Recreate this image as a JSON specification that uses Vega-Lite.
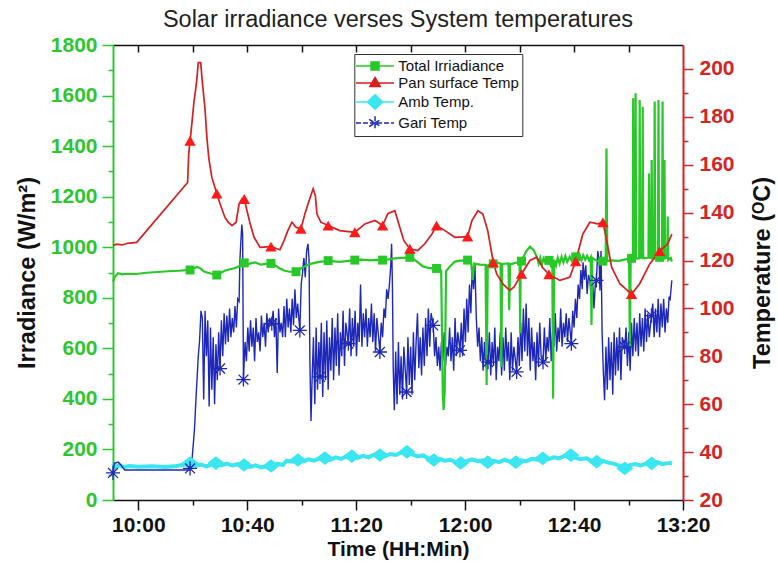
{
  "$schema": "https://vega.github.io/schema/vega-lite/v6.json",
  "width": 570,
  "height": 455,
  "autosize": "none",
  "padding": {"left": 113, "top": 45, "right": 95, "bottom": 63},
  "background": "white",
  "title": {
    "text": "Solar irradiance verses System temperatures",
    "font": "Liberation Sans",
    "fontSize": 23.5,
    "fontWeight": "normal",
    "color": "#222222",
    "anchor": "middle",
    "offset": 3
  },
  "datasets": {
    "irr": [
      {"t":590.7,"v":864},{"t":591.3,"v":882},{"t":592.6,"v":897},{"t":594,"v":893},{"t":596,"v":895},{"t":599,"v":894},
      {"t":603,"v":899},{"t":607,"v":902},{"t":611,"v":905},{"t":615,"v":907},{"t":619.0,"v":910},{"t":620.3,"v":916},
      {"t":621.5,"v":922},{"t":622.7,"v":917},{"t":624.0,"v":905},{"t":625.5,"v":899},{"t":627,"v":895},{"t":628.8,"v":890},
      {"t":630.2,"v":898},{"t":631.7,"v":907},{"t":633.3,"v":912},{"t":635,"v":916},{"t":636.5,"v":922},{"t":638,"v":932},
      {"t":638.9,"v":938},{"t":640.2,"v":932},{"t":641.5,"v":937},{"t":643,"v":940},{"t":645,"v":931},{"t":646.8,"v":934},
      {"t":648.7,"v":936},{"t":650.3,"v":928},{"t":651.8,"v":917},{"t":653.5,"v":908},{"t":655.5,"v":903},{"t":657.9,"v":903},
      {"t":659.5,"v":915},{"t":661,"v":924},{"t":662.5,"v":932},{"t":664,"v":936},{"t":666,"v":941},{"t":668,"v":944},
      {"t":669.7,"v":947},{"t":672,"v":944},{"t":674,"v":942},{"t":677,"v":946},{"t":679.5,"v":949},{"t":682,"v":951},
      {"t":685,"v":948},{"t":687.5,"v":950},{"t":689.7,"v":949},{"t":692,"v":952},{"t":694.2,"v":956},{"t":697,"v":958},
      {"t":699.7,"v":960},{"t":701.5,"v":950},{"t":703,"v":937},{"t":704.5,"v":924},{"t":706.5,"v":918},{"t":708,"v":916},
      {"t":709.5,"v":916},{"t":711.2,"v":908},{"t":711.8,"v":420},{"t":712.1,"v":356},{"t":712.5,"v":430},{"t":713.0,"v":905},
      {"t":714.5,"v":925},{"t":716.2,"v":943},{"t":718.5,"v":947},{"t":720.9,"v":949},{"t":722.2,"v":940},{"t":722.8,"v":870},
      {"t":723.3,"v":935},{"t":725.5,"v":931},{"t":727.5,"v":930},{"t":727.9,"v":455},{"t":728.3,"v":928},{"t":730.3,"v":934},
      {"t":731.8,"v":938},{"t":733.0,"v":936},{"t":733.3,"v":527},{"t":733.6,"v":934},{"t":735.9,"v":936},{"t":736.2,"v":751},
      {"t":736.5,"v":932},{"t":738.5,"v":938},{"t":740.0,"v":942},{"t":740.2,"v":660},{"t":740.4,"v":942},{"t":740.7,"v":945},
      {"t":742.5,"v":985},{"t":743.8,"v":1002},{"t":745.2,"v":988},{"t":746.3,"v":962},{"t":747.0,"v":935},{"t":747.6,"v":958},
      {"t":748.2,"v":932},{"t":748.8,"v":955},{"t":749.5,"v":938},{"t":750.2,"v":952},{"t":750.8,"v":948},{"t":751.4,"v":930},
      {"t":752.0,"v":952},{"t":752.3,"v":402},{"t":752.7,"v":950},{"t":753.4,"v":928},{"t":754.0,"v":958},{"t":754.7,"v":935},
      {"t":755.4,"v":962},{"t":756.1,"v":940},{"t":756.8,"v":965},{"t":757.5,"v":942},{"t":758.4,"v":962},{"t":759.2,"v":945},
      {"t":760.0,"v":968},{"t":760.6,"v":962},{"t":761.3,"v":944},{"t":762.0,"v":970},{"t":762.7,"v":948},{"t":763.4,"v":968},
      {"t":764.1,"v":950},{"t":764.8,"v":966},{"t":765.5,"v":948},{"t":766.1,"v":960},{"t":766.4,"v":692},{"t":766.7,"v":958},
      {"t":768.5,"v":946},{"t":770.6,"v":945},{"t":771.6,"v":943},{"t":771.9,"v":1391},{"t":772.2,"v":945},{"t":774,"v":948},
      {"t":776.5,"v":946},{"t":778.8,"v":952},{"t":780.2,"v":955},{"t":780.5,"v":606},{"t":780.8,"v":956},{"t":781.1,"v":956},
      {"t":781.6,"v":958},{"t":781.7,"v":1589},{"t":781.9,"v":960},{"t":782.4,"v":958},{"t":782.6,"v":1609},{"t":782.8,"v":956},
      {"t":783.9,"v":956},{"t":784.1,"v":1582},{"t":784.3,"v":958},{"t":785.0,"v":960},{"t":785.2,"v":1556},{"t":785.4,"v":956},
      {"t":787.3,"v":958},{"t":787.5,"v":1292},{"t":787.7,"v":960},{"t":788.3,"v":958},{"t":788.5,"v":1345},{"t":788.7,"v":956},
      {"t":789.4,"v":956},{"t":789.6,"v":1576},{"t":789.8,"v":960},{"t":790.8,"v":960},{"t":791.0,"v":1582},{"t":791.2,"v":958},
      {"t":791.4,"v":960},{"t":792.3,"v":960},{"t":792.5,"v":1576},{"t":792.7,"v":956},{"t":793.0,"v":960},{"t":793.2,"v":1345},
      {"t":793.4,"v":956},{"t":794.2,"v":960},{"t":794.4,"v":1121},{"t":794.6,"v":950},{"t":795.5,"v":958},{"t":795.9,"v":943}
    ],
    "irrMk": [
      {"t":619.0,"v":910},{"t":628.8,"v":890},{"t":638.9,"v":938},{"t":648.7,"v":936},{"t":657.9,"v":903},{"t":669.7,"v":947},
      {"t":679.5,"v":949},{"t":689.7,"v":949},{"t":699.7,"v":960},{"t":709.5,"v":916},{"t":720.9,"v":949},{"t":730.3,"v":934},
      {"t":740.7,"v":945},{"t":750.8,"v":948},{"t":760.6,"v":962},{"t":770.6,"v":945},{"t":781.1,"v":956},{"t":791.4,"v":960}
    ],
    "pan": [
      {"t":590.7,"v":126.3},{"t":592,"v":126.8},{"t":594,"v":126.5},{"t":596,"v":127.2},{"t":599.4,"v":127.6},{"t":618.1,"v":152.6},
      {"t":618.5,"v":164.6},{"t":619.0,"v":170},{"t":619.7,"v":177.6},{"t":620.4,"v":186},{"t":621.0,"v":191},{"t":621.5,"v":195.8},
      {"t":622.0,"v":202.6},{"t":622.9,"v":202.6},{"t":623.4,"v":195.8},{"t":624.5,"v":183},{"t":625.2,"v":171},{"t":625.9,"v":162.5},
      {"t":627.0,"v":154.7},{"t":628.8,"v":148},{"t":630.0,"v":143.7},{"t":631.8,"v":138},{"t":633,"v":136},{"t":634.4,"v":134.6},
      {"t":635.9,"v":136},{"t":637.0,"v":143.7},{"t":638.2,"v":146},{"t":638.9,"v":145.7},{"t":639.9,"v":140.8},{"t":641.0,"v":135.7},
      {"t":642.5,"v":129.7},{"t":644.7,"v":125.5},{"t":648.7,"v":125.8},{"t":652.0,"v":124.5},{"t":653.5,"v":128.3},{"t":654.9,"v":132.5},
      {"t":656.4,"v":136},{"t":657.9,"v":133.9},{"t":659.7,"v":133.2},{"t":661.2,"v":139.6},{"t":663,"v":146},{"t":664.2,"v":150},
      {"t":665,"v":147},{"t":665.6,"v":139.4},{"t":667,"v":136},{"t":669.7,"v":134.6},{"t":674.0,"v":132.5},{"t":679.5,"v":131.8},
      {"t":683.2,"v":135.3},{"t":686.9,"v":136.7},{"t":689.7,"v":134.6},{"t":691.6,"v":139.6},{"t":694.2,"v":140.8},{"t":696.0,"v":133.9},
      {"t":697.5,"v":128.3},{"t":699.7,"v":124.9},{"t":702.6,"v":124.2},{"t":705.2,"v":127},{"t":707.8,"v":131.1},{"t":709.5,"v":134.6},
      {"t":712.6,"v":132.5},{"t":716.2,"v":129.7},{"t":720.9,"v":130},{"t":722.5,"v":136.7},{"t":724.7,"v":140.8},{"t":726.5,"v":139.4},
      {"t":728.3,"v":132.5},{"t":729.8,"v":122.8},{"t":730.3,"v":119.3},{"t":731.6,"v":114.4},{"t":734,"v":110},{"t":736.4,"v":107.5},
      {"t":738,"v":109},{"t":740.7,"v":114.4},{"t":743.8,"v":120},{"t":746.3,"v":121.4},{"t":748.5,"v":117},{"t":750.8,"v":114.2},
      {"t":754.8,"v":111.7},{"t":758.4,"v":113},{"t":760.6,"v":119.7},{"t":763.2,"v":131},{"t":765.8,"v":136},{"t":768.7,"v":135.3},
      {"t":770.6,"v":136},{"t":772.0,"v":128.3},{"t":773.8,"v":117.2},{"t":776.8,"v":110.3},{"t":781.1,"v":106},{"t":784.1,"v":110.3},
      {"t":787.8,"v":118.6},{"t":791.4,"v":123.9},{"t":794.4,"v":127},{"t":795.9,"v":131}
    ],
    "panMk": [
      {"t":619.0,"v":170},{"t":628.8,"v":148},{"t":638.9,"v":145.7},{"t":648.7,"v":125.8},{"t":659.7,"v":133.2},{"t":669.7,"v":134.6},
      {"t":679.5,"v":131.8},{"t":689.7,"v":134.6},{"t":699.7,"v":124.9},{"t":709.5,"v":134.6},{"t":720.9,"v":130},{"t":730.3,"v":119.3},
      {"t":740.7,"v":114.4},{"t":750.8,"v":114.2},{"t":760.6,"v":119.7},{"t":770.6,"v":136},{"t":781.1,"v":106},{"t":791.4,"v":123.9}
    ],
    "amb": [
      {"t":590.7,"v":35.4},{"t":591.8,"v":33.6},{"t":593,"v":34.6},{"t":594.5,"v":33.8},{"t":597,"v":34.2},{"t":600,"v":33.9},
      {"t":605,"v":34.1},{"t":610,"v":33.8},{"t":614,"v":34.2},{"t":617,"v":34.8},{"t":619.0,"v":35.4},{"t":621,"v":34.3},
      {"t":623,"v":34.8},{"t":625,"v":34.0},{"t":626.8,"v":34.8},{"t":628.5,"v":35.4},{"t":630.5,"v":34.5},{"t":632.5,"v":35.2},
      {"t":634.5,"v":34.4},{"t":636.5,"v":35.0},{"t":638.8,"v":34.6},{"t":641,"v":33.8},{"t":643,"v":34.5},{"t":645,"v":33.6},
      {"t":647,"v":34.0},{"t":648.7,"v":34.2},{"t":651,"v":35.2},{"t":653,"v":34.6},{"t":654.5,"v":36.4},{"t":656.5,"v":36.0},
      {"t":658.6,"v":36.7},{"t":660.5,"v":36.1},{"t":662.5,"v":37.0},{"t":664.5,"v":36.4},{"t":666.5,"v":37.4},{"t":668.5,"v":37.5},
      {"t":670.5,"v":36.8},{"t":672.5,"v":37.8},{"t":674.5,"v":37.2},{"t":676.5,"v":38.2},{"t":678.4,"v":38.3},{"t":680.5,"v":37.6},
      {"t":682.5,"v":38.4},{"t":684.5,"v":37.8},{"t":686.5,"v":38.9},{"t":688.7,"v":38.8},{"t":690.5,"v":38.2},{"t":692.5,"v":39.2},
      {"t":694.5,"v":38.8},{"t":696.5,"v":39.8},{"t":698.6,"v":40.1},{"t":700.5,"v":39.0},{"t":702.5,"v":38.2},{"t":704.5,"v":38.6},
      {"t":706.5,"v":37.4},{"t":708.5,"v":36.7},{"t":710.5,"v":37.2},{"t":712.5,"v":36.4},{"t":714.5,"v":36.8},{"t":716.5,"v":35.8},
      {"t":718.4,"v":35.5},{"t":720.5,"v":36.2},{"t":722.5,"v":37.0},{"t":724.5,"v":36.2},{"t":726.5,"v":36.6},{"t":728.3,"v":35.8},
      {"t":730.5,"v":36.4},{"t":732.5,"v":35.8},{"t":734.5,"v":36.8},{"t":736.5,"v":36.0},{"t":738.6,"v":35.8},{"t":740.5,"v":36.6},
      {"t":742.5,"v":36.2},{"t":744.5,"v":37.2},{"t":746.5,"v":36.8},{"t":748.5,"v":37.4},{"t":750.5,"v":37.0},{"t":752.5,"v":37.8},
      {"t":754.5,"v":37.4},{"t":756.5,"v":38.4},{"t":758.8,"v":38.75},{"t":760.5,"v":37.6},{"t":762.5,"v":37.0},{"t":764.5,"v":37.4},
      {"t":766.5,"v":36.4},{"t":768.3,"v":36.0},{"t":770.5,"v":36.4},{"t":772.5,"v":35.6},{"t":774.5,"v":35.2},{"t":776.5,"v":34.4},
      {"t":778.6,"v":33.2},{"t":780.5,"v":34.6},{"t":782.5,"v":35.0},{"t":784.5,"v":34.4},{"t":786.5,"v":35.2},{"t":788.5,"v":35.3},
      {"t":790.5,"v":35.8},{"t":792.5,"v":35.0},{"t":794.5,"v":35.4},{"t":795.9,"v":35.5}
    ],
    "ambMk": [
      {"t":619.0,"v":35.4},{"t":628.5,"v":35.4},{"t":638.8,"v":34.6},{"t":648.7,"v":34.2},{"t":658.6,"v":36.7},{"t":668.5,"v":37.5},
      {"t":678.4,"v":38.3},{"t":688.7,"v":38.8},{"t":698.6,"v":40.1},{"t":708.5,"v":36.7},{"t":718.4,"v":35.5},{"t":728.3,"v":35.8},
      {"t":738.6,"v":35.8},{"t":748.5,"v":37.4},{"t":758.8,"v":38.75},{"t":768.3,"v":36.0},{"t":778.6,"v":33.2},{"t":788.5,"v":35.3}
    ],
    "gari": [
      {"t":590.7,"v":31.3},{"t":591.2,"v":35.3},{"t":592.6,"v":35.8},{"t":593.6,"v":34.6},{"t":595,"v":32.5},{"t":618.8,"v":32.5},
      {"t":619.0,"v":33.2},{"t":619.8,"v":38},{"t":620.6,"v":49.2},{"t":621.3,"v":65.1},{"t":622.0,"v":79.7},{"t":622.5,"v":86.7},
      {"t":623.0,"v":99},{"t":623.5,"v":96},{"t":624.0,"v":62},{"t":624.5,"v":99},{"t":625.0,"v":80},{"t":625.5,"v":95},
      {"t":626.0,"v":59},{"t":626.5,"v":92},{"t":627.0,"v":66},{"t":627.5,"v":88},{"t":628.0,"v":60},{"t":628.5,"v":85},
      {"t":629.0,"v":70},{"t":629.5,"v":90},{"t":630.0,"v":74.9},{"t":630.5,"v":95},{"t":631.0,"v":80},{"t":631.5,"v":98},
      {"t":632.0,"v":85},{"t":632.5,"v":97},{"t":633.0,"v":86},{"t":633.5,"v":100},{"t":634.0,"v":88},{"t":634.5,"v":96},
      {"t":635.0,"v":90},{"t":635.5,"v":101},{"t":636.0,"v":92},{"t":636.5,"v":104},{"t":637.0,"v":103},{"t":637.3,"v":120},
      {"t":637.6,"v":127},{"t":638.0,"v":135},{"t":638.3,"v":131},{"t":638.6,"v":70.3},{"t":639.2,"v":86},{"t":639.7,"v":78},
      {"t":640.2,"v":92},{"t":640.7,"v":82},{"t":641.2,"v":95},{"t":641.7,"v":84},{"t":642.2,"v":92},{"t":642.7,"v":78},
      {"t":643.2,"v":96},{"t":643.7,"v":86},{"t":644.2,"v":90},{"t":644.7,"v":82},{"t":645.2,"v":97},{"t":645.7,"v":88},
      {"t":646.2,"v":94},{"t":646.7,"v":84},{"t":647.2,"v":98},{"t":647.7,"v":90},{"t":648.2,"v":96},{"t":649.0,"v":93.6},
      {"t":649.5,"v":99},{"t":650.0,"v":88},{"t":650.5,"v":96},{"t":651.0,"v":73},{"t":651.5,"v":100},{"t":652.0,"v":90},
      {"t":652.5,"v":94},{"t":653.0,"v":88},{"t":653.5,"v":101},{"t":654.0,"v":88},{"t":654.5,"v":104},{"t":655.0,"v":92},
      {"t":655.5,"v":100},{"t":656.0,"v":90},{"t":656.5,"v":104},{"t":657.0,"v":93},{"t":657.5,"v":108},{"t":658.0,"v":96},
      {"t":658.5,"v":102},{"t":659.3,"v":90.8},{"t":659.8,"v":110},{"t":660.3,"v":115},{"t":660.8,"v":121},{"t":661.3,"v":113},
      {"t":661.8,"v":124},{"t":662.3,"v":127},{"t":662.7,"v":120},{"t":663.0,"v":78},{"t":663.4,"v":53},{"t":663.8,"v":70},
      {"t":664.3,"v":88},{"t":664.8,"v":60},{"t":665.3,"v":92},{"t":665.8,"v":66},{"t":666.3,"v":86},{"t":666.7,"v":71.4},
      {"t":667.2,"v":94},{"t":667.7,"v":63},{"t":668.2,"v":90},{"t":668.7,"v":70},{"t":669.2,"v":95},{"t":669.7,"v":66},
      {"t":670.2,"v":88},{"t":670.7,"v":74},{"t":671.2,"v":96},{"t":671.7,"v":70},{"t":672.2,"v":92},{"t":672.7,"v":76},
      {"t":673.2,"v":98},{"t":673.7,"v":72},{"t":674.2,"v":90},{"t":674.7,"v":80},{"t":675.2,"v":99},{"t":675.7,"v":76},
      {"t":676.2,"v":94},{"t":677.1,"v":85.3},{"t":677.6,"v":100},{"t":678.1,"v":80},{"t":678.6,"v":96},{"t":679.1,"v":84},
      {"t":679.6,"v":99},{"t":680.1,"v":80},{"t":680.6,"v":94},{"t":681.1,"v":86},{"t":681.6,"v":110},{"t":682.1,"v":84},
      {"t":682.6,"v":98},{"t":683.1,"v":88},{"t":683.6,"v":100},{"t":684.1,"v":84},{"t":684.6,"v":96},{"t":685.1,"v":88},
      {"t":685.6,"v":102},{"t":686.1,"v":86},{"t":686.6,"v":98},{"t":687.1,"v":82},{"t":687.6,"v":96},{"t":688.7,"v":81.8},
      {"t":689.2,"v":94},{"t":689.7,"v":88},{"t":690.2,"v":100},{"t":690.7,"v":96},{"t":691.2,"v":108},{"t":691.7,"v":104},
      {"t":692.2,"v":110},{"t":692.7,"v":118},{"t":693.0,"v":127},{"t":693.3,"v":110},{"t":693.6,"v":75},{"t":694.0,"v":57.5},
      {"t":694.5,"v":82},{"t":695.0,"v":60},{"t":695.5,"v":86},{"t":696.0,"v":64},{"t":696.5,"v":80},{"t":697.0,"v":62},
      {"t":697.5,"v":84},{"t":698.5,"v":65.1},{"t":699.0,"v":88},{"t":699.5,"v":68},{"t":700.0,"v":84},{"t":700.5,"v":64},
      {"t":701.0,"v":90},{"t":701.5,"v":70},{"t":702.0,"v":86},{"t":702.5,"v":98},{"t":703.0,"v":75},{"t":703.5,"v":88},
      {"t":704.0,"v":72},{"t":704.5,"v":92},{"t":705.0,"v":76},{"t":705.5,"v":96},{"t":706.0,"v":80},{"t":706.5,"v":100},
      {"t":707.0,"v":84},{"t":707.5,"v":98},{"t":708.3,"v":92.9},{"t":708.8,"v":80},{"t":709.3,"v":88},{"t":709.8,"v":76},
      {"t":710.3,"v":84},{"t":710.8,"v":74},{"t":711.3,"v":86},{"t":711.8,"v":78},{"t":712.3,"v":90},{"t":712.8,"v":76},
      {"t":713.3,"v":84},{"t":713.8,"v":80},{"t":714.3,"v":92},{"t":714.8,"v":78},{"t":715.3,"v":88},{"t":715.8,"v":74},
      {"t":716.3,"v":96},{"t":716.8,"v":80},{"t":717.3,"v":90},{"t":718.1,"v":82.5},{"t":718.6,"v":94},{"t":719.1,"v":80},
      {"t":719.6,"v":100},{"t":720.1,"v":86},{"t":720.6,"v":104},{"t":721.1,"v":90},{"t":721.6,"v":110},{"t":722.1,"v":98},
      {"t":722.6,"v":117},{"t":723.1,"v":108},{"t":723.6,"v":118.6},{"t":724.1,"v":96},{"t":724.6,"v":84},{"t":725.1,"v":92},
      {"t":725.6,"v":78},{"t":726.1,"v":88},{"t":726.6,"v":74},{"t":727.1,"v":86},{"t":727.6,"v":76},{"t":728.4,"v":77.6},
      {"t":728.9,"v":90},{"t":729.4,"v":72},{"t":729.9,"v":86},{"t":730.4,"v":76},{"t":730.9,"v":92},{"t":731.4,"v":70},
      {"t":731.9,"v":84},{"t":732.4,"v":78},{"t":732.9,"v":90},{"t":733.4,"v":72},{"t":733.9,"v":88},{"t":734.4,"v":74},
      {"t":734.9,"v":92},{"t":735.4,"v":78},{"t":735.9,"v":86},{"t":736.4,"v":70},{"t":736.9,"v":90},{"t":737.4,"v":74},
      {"t":737.9,"v":84},{"t":738.9,"v":73.5},{"t":739.4,"v":88},{"t":739.9,"v":76},{"t":740.4,"v":94},{"t":740.9,"v":78},
      {"t":741.4,"v":100},{"t":741.9,"v":82},{"t":742.4,"v":102},{"t":742.9,"v":80},{"t":743.4,"v":96},{"t":743.9,"v":74},
      {"t":744.4,"v":92},{"t":744.9,"v":78},{"t":745.4,"v":86},{"t":745.9,"v":70},{"t":746.4,"v":90},{"t":746.9,"v":76},
      {"t":747.4,"v":94},{"t":747.9,"v":80},{"t":748.6,"v":77.6},{"t":749.1,"v":92},{"t":749.6,"v":78},{"t":750.1,"v":88},
      {"t":750.6,"v":82},{"t":751.1,"v":96},{"t":751.6,"v":78},{"t":752.1,"v":90},{"t":752.6,"v":84},{"t":753.1,"v":98},
      {"t":753.6,"v":82},{"t":754.1,"v":92},{"t":754.6,"v":86},{"t":755.1,"v":100},{"t":755.6,"v":84},{"t":756.1,"v":94},
      {"t":756.6,"v":88},{"t":757.1,"v":98},{"t":757.6,"v":86},{"t":758.1,"v":96},{"t":759.0,"v":85.3},{"t":759.5,"v":99},
      {"t":760.0,"v":92},{"t":760.5,"v":104},{"t":761.0,"v":96},{"t":761.5,"v":110},{"t":762.0,"v":104},{"t":762.5,"v":116},
      {"t":763.0,"v":108},{"t":763.3,"v":119.3},{"t":763.8,"v":112},{"t":764.3,"v":118},{"t":764.8,"v":106},{"t":765.3,"v":114},
      {"t":765.8,"v":111.7},{"t":766.3,"v":104},{"t":766.8,"v":112},{"t":767.3,"v":100},{"t":767.8,"v":110},{"t":768.2,"v":111.7},
      {"t":768.7,"v":124},{"t":769.2,"v":120},{"t":769.5,"v":107.5},{"t":769.9,"v":124},{"t":770.3,"v":90},{"t":770.7,"v":75},
      {"t":771.2,"v":61.7},{"t":771.7,"v":84},{"t":772.2,"v":66},{"t":772.7,"v":88},{"t":773.2,"v":70},{"t":773.7,"v":86},
      {"t":774.2,"v":64},{"t":774.7,"v":90},{"t":775.2,"v":72},{"t":775.7,"v":88},{"t":776.2,"v":74},{"t":776.7,"v":92},
      {"t":777.2,"v":70},{"t":777.7,"v":88},{"t":778.6,"v":83.9},{"t":779.1,"v":92},{"t":779.6,"v":76},{"t":780.1,"v":90},
      {"t":780.6,"v":74},{"t":781.1,"v":94},{"t":781.6,"v":80},{"t":782.1,"v":96},{"t":782.6,"v":82},{"t":783.1,"v":94},
      {"t":783.6,"v":80},{"t":784.1,"v":98},{"t":784.6,"v":84},{"t":785.1,"v":96},{"t":785.6,"v":82},{"t":786.1,"v":100},
      {"t":786.6,"v":86},{"t":787.1,"v":98},{"t":787.6,"v":88},{"t":788.4,"v":97},{"t":788.9,"v":102},{"t":789.4,"v":88},
      {"t":789.9,"v":100},{"t":790.4,"v":90},{"t":790.9,"v":104},{"t":791.4,"v":88},{"t":791.9,"v":102},{"t":792.4,"v":92},
      {"t":792.9,"v":104},{"t":793.4,"v":90},{"t":793.9,"v":100},{"t":794.4,"v":94},{"t":794.9,"v":105},{"t":795.3,"v":104},
      {"t":795.6,"v":108},{"t":795.9,"v":111.7}
    ],
    "gariMk": [
      {"t":590.7,"v":31.3},{"t":619.0,"v":33.2},{"t":630.0,"v":74.9},{"t":638.6,"v":70.3},{"t":649.0,"v":93.6},{"t":659.3,"v":90.8},
      {"t":666.7,"v":71.4},{"t":677.1,"v":85.3},{"t":688.7,"v":81.8},{"t":698.5,"v":65.1},{"t":708.3,"v":92.9},{"t":718.1,"v":82.5},
      {"t":728.4,"v":77.6},{"t":738.9,"v":73.5},{"t":748.6,"v":77.6},{"t":759.0,"v":85.3},{"t":768.2,"v":111.7},{"t":778.6,"v":83.9},
      {"t":788.4,"v":97}
    ]
  },
  "layer": [
    {
      "data": {"name": "amb"},
      "mark": {"type": "line", "strokeWidth": 4},
      "encoding": {
        "x": {"field": "t", "type": "quantitative", "scale": {"domain": [590.7, 800], "nice": false, "zero": false}, "axis": null},
        "y": {"field": "v", "type": "quantitative", "scale": {"domain": [20, 210], "nice": false, "zero": false}, "axis": null},
        "color": {"datum": "Amb Temp."}
      }
    },
    {
      "data": {"name": "gari"},
      "mark": {"type": "line", "strokeWidth": 1.4},
      "encoding": {
        "x": {"field": "t", "type": "quantitative", "scale": {"domain": [590.7, 800], "nice": false, "zero": false}, "axis": null},
        "y": {"field": "v", "type": "quantitative", "scale": {"domain": [20, 210], "nice": false, "zero": false}, "axis": null},
        "color": {"datum": "Gari Temp"}
      }
    },
    {
      "data": {"name": "irr"},
      "mark": {"type": "line", "strokeWidth": 2.2},
      "encoding": {
        "x": {
          "field": "t", "type": "quantitative",
          "scale": {"domain": [590.7, 800], "nice": false, "zero": false},
          "axis": {
            "orient": "bottom",
            "values": [600, 640, 680, 720, 760, 800],
            "labelExpr": "floor(datum.value / 60) + ':' + (datum.value % 60 < 10 ? '0' : '') + (datum.value % 60)",
            "title": "Time (HH:Min)",
            "domainColor": "#111111", "tickColor": "#111111", "tickSize": 10,
            "labelColor": "#111111", "labelFontSize": 21, "labelPadding": 4, "labelFlush": false,
            "titlePadding": 3, "titleFontSize": 21
          }
        },
        "y": {
          "field": "v", "type": "quantitative",
          "scale": {"domain": [0, 1800], "nice": false, "zero": false},
          "axis": {
            "orient": "left",
            "values": [0, 200, 400, 600, 800, 1000, 1200, 1400, 1600, 1800],
            "format": "d",
            "title": "Irradiance (W/m²)",
            "domainColor": "#2ec52e", "domainWidth": 2, "tickColor": "#2ec52e", "tickSize": 11,
            "labelColor": "#2ec52e", "labelFontSize": 21, "labelPadding": 5,
            "titlePadding": 11, "titleFontSize": 23.5
          }
        },
        "color": {
          "datum": "Total Irriadiance",
          "scale": {
            "domain": ["Total Irriadiance", "Pan surface Temp", "Amb Temp.", "Gari Temp"],
            "range": ["#28c828", "#d81e1e", "#3ae6f0", "#1e28b8"]
          },
          "legend": {
            "title": null,
            "orient": "none",
            "legendX": 241.3,
            "legendY": 9,
            "direction": "vertical",
            "padding": 3,
            "strokeColor": "#333333",
            "fillColor": "white",
            "symbolSize": 256,
            "symbolStrokeWidth": 1.5,
            "labelOffset": 23,
            "rowPadding": 0,
            "labelFont": "Liberation Sans",
            "labelFontSize": 15,
            "labelColor": "#111111",
            "encode": {
              "symbols": {
                "update": {
                  "shape": {"signal": "datum.value === 'Total Irriadiance' ? 'M-1.29,0H3.46M0.59,-0.5H1.59V0.5H0.59Z' : datum.value === 'Pan surface Temp' ? 'M-1.29,0H3.46M1.09,-0.7L1.74,0.45H0.44Z' : datum.value === 'Amb Temp.' ? 'M-1.29,0H3.46M1.09,-0.9L2.04,0L1.09,0.9L0.14,0Z' : 'M-1.29,0H3.46M1.09,-0.85V0.85M0.35,-0.45L1.83,0.45M0.35,0.45L1.83,-0.45'"},
                  "size": {"value": 256},
                  "fill": {"signal": "scale('color', datum.value)"},
                  "stroke": {"signal": "scale('color', datum.value)"},
                  "strokeWidth": {"value": 1.5},
                  "strokeDash": {"signal": "datum.value === 'Gari Temp' ? [5, 2] : []"},
                  "opacity": {"value": 1}
                }
              }
            }
          }
        }
      }
    },
    {
      "data": {"name": "pan"},
      "mark": {"type": "line", "strokeWidth": 1.7},
      "encoding": {
        "x": {
          "field": "t", "type": "quantitative",
          "scale": {"domain": [590.7, 800], "nice": false, "zero": false},
          "axis": {
            "orient": "top",
            "values": [600, 620, 640, 660, 680, 700, 720, 740, 760, 780],
            "labels": false, "title": null,
            "domainColor": "#111111", "tickColor": "#111111", "tickSize": -7
          }
        },
        "y": {
          "field": "v", "type": "quantitative",
          "scale": {"domain": [20, 210], "nice": false, "zero": false},
          "axis": {
            "orient": "right",
            "values": [20, 40, 60, 80, 100, 120, 140, 160, 180, 200],
            "title": "Temperature (ᴼC)",
            "titleAngle": 270, "titleBaseline": "top",
            "domainColor": "#d42424", "domainWidth": 2, "tickColor": "#d42424", "tickSize": 10,
            "labelColor": "#d42424", "labelFontSize": 21, "labelPadding": 6,
            "titlePadding": 16, "titleFontSize": 23.5
          }
        },
        "color": {"datum": "Pan surface Temp"}
      }
    },
    {
      "data": {"name": "ambMk"},
      "mark": {"type": "point", "shape": "M0,-0.8L1,0L0,0.8L-1,0Z", "filled": true, "size": 290, "color": "#3ae6f0", "opacity": 1},
      "encoding": {
        "x": {"field": "t", "type": "quantitative", "scale": {"domain": [590.7, 800], "nice": false, "zero": false}, "axis": null},
        "y": {"field": "v", "type": "quantitative", "scale": {"domain": [20, 210], "nice": false, "zero": false}, "axis": null}
      }
    },
    {
      "data": {"name": "gariMk"},
      "mark": {"type": "point", "shape": "M0,-1V1M-1,0H1M-0.7,-0.7L0.7,0.7M-0.7,0.7L0.7,-0.7", "filled": false, "size": 200, "color": "#1e28b8", "strokeWidth": 1.3, "opacity": 1},
      "encoding": {
        "x": {"field": "t", "type": "quantitative", "scale": {"domain": [590.7, 800], "nice": false, "zero": false}, "axis": null},
        "y": {"field": "v", "type": "quantitative", "scale": {"domain": [20, 210], "nice": false, "zero": false}, "axis": null}
      }
    },
    {
      "data": {"name": "irrMk"},
      "mark": {"type": "point", "shape": "square", "filled": true, "size": 80, "color": "#28c828", "opacity": 1},
      "encoding": {
        "x": {
          "field": "t", "type": "quantitative",
          "scale": {"domain": [590.7, 800], "nice": false, "zero": false},
          "axis": {
            "orient": "bottom", "values": [620, 660, 700, 740, 780],
            "labels": false, "domain": false, "title": null,
            "tickColor": "#111111", "tickSize": 5
          }
        },
        "y": {
          "field": "v", "type": "quantitative",
          "scale": {"domain": [0, 1800], "nice": false, "zero": false},
          "axis": {
            "orient": "left", "values": [100, 300, 500, 700, 900, 1100, 1300, 1500, 1700],
            "labels": false, "domain": false, "title": null,
            "tickColor": "#2ec52e", "tickSize": 5
          }
        }
      }
    },
    {
      "data": {"name": "panMk"},
      "mark": {"type": "point", "shape": "triangle-up", "filled": true, "size": 130, "color": "#ff1a1a", "opacity": 1},
      "encoding": {
        "x": {"field": "t", "type": "quantitative", "scale": {"domain": [590.7, 800], "nice": false, "zero": false}, "axis": null},
        "y": {
          "field": "v", "type": "quantitative",
          "scale": {"domain": [20, 210], "nice": false, "zero": false},
          "axis": {
            "orient": "right", "values": [30, 50, 70, 90, 110, 130, 150, 170, 190],
            "labels": false, "domain": false, "title": null,
            "tickColor": "#d42424", "tickSize": 5
          }
        }
      }
    }
  ],
  "resolve": {
    "scale": {"y": "independent"},
    "axis": {"x": "independent", "y": "independent"}
  },
  "config": {
    "view": {"stroke": null},
    "axis": {
      "grid": false,
      "labelFont": "Liberation Sans",
      "labelFontWeight": "bold",
      "titleFont": "Liberation Sans",
      "titleFontWeight": "bold",
      "titleFontSize": 22,
      "titleColor": "#111111",
      "domainWidth": 1.5,
      "tickWidth": 1.5,
      "labelOverlap": false
    }
  }
}
